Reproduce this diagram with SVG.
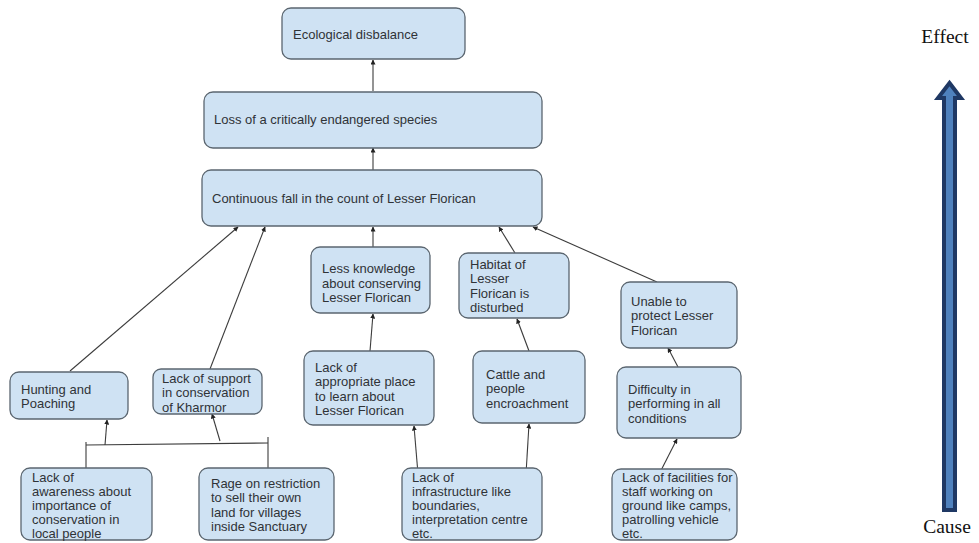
<svg xmlns="http://www.w3.org/2000/svg" width="979" height="543" viewBox="0 0 979 543">
<defs>
<style>
.box{fill:#cfe2f3;stroke:#5b6670;stroke-width:1.3}
.t{font-family:"Liberation Sans",Arial,sans-serif;font-size:13px;fill:#2f3337}
.c{stroke:#3c3c3c;stroke-width:1.1;fill:none}
.a{marker-end:url(#ah)}
.lbl{font-family:"Liberation Serif","Times New Roman",serif;font-size:19.5px;fill:#111}
</style>
<marker id="ah" viewBox="0 0 10 10" refX="9" refY="5" markerWidth="5" markerHeight="5" orient="auto" markerUnits="userSpaceOnUse">
<path d="M0,0 L10,5 L0,10 z" fill="#222"/>
</marker>
</defs>
<rect width="979" height="543" fill="#fff"/>

<g id="connectors">
<line class="c a" x1="373" y1="91" x2="373" y2="60"/>
<line class="c a" x1="373" y1="170" x2="373" y2="148"/>
<line class="c a" x1="70" y1="371" x2="238" y2="227"/>
<line class="c a" x1="210" y1="369" x2="265" y2="227"/>
<line class="c a" x1="373" y1="247" x2="373" y2="227"/>
<line class="c a" x1="515" y1="253" x2="499" y2="227"/>
<line class="c a" x1="657" y1="282" x2="533" y2="227"/>
<line class="c a" x1="370" y1="351" x2="373" y2="314"/>
<line class="c a" x1="529" y1="351" x2="517" y2="319"/>
<line class="c a" x1="678" y1="367" x2="668" y2="348"/>
<line class="c a" x1="526" y1="474" x2="529" y2="424"/>
<line class="c a" x1="418" y1="474" x2="414" y2="426"/>
<line class="c a" x1="650" y1="492" x2="677" y2="439"/>
<polyline class="c" points="86,475 86,442"/>
<line class="c" x1="86" y1="445" x2="268" y2="443"/>
<polyline class="c" points="268,437 268,468"/>
<line class="c a" x1="105" y1="445" x2="107" y2="420"/>
<line class="c a" x1="220" y1="441" x2="212" y2="414"/>
</g>

<g id="n-eco"><rect class="box" x="282" y="8" width="183" height="51" rx="9"/><text class="t" x="293" y="39">Ecological disbalance</text></g>
<g id="n-loss"><rect class="box" x="204" y="92" width="338" height="56" rx="9"/><text class="t" x="214" y="124">Loss of a critically endangered species</text></g>
<g id="n-fall"><rect class="box" x="202" y="170" width="340" height="56" rx="9"/><text class="t" x="212" y="203">Continuous fall in the count of Lesser Florican</text></g>

<g id="n-knowledge"><rect class="box" x="311" y="247" width="119" height="66" rx="9"/><text class="t" x="322" y="273"><tspan x="322">Less knowledge</tspan><tspan x="322" dy="14.5">about conserving</tspan><tspan x="322" dy="14.5">Lesser Florican</tspan></text></g>
<g id="n-habitat"><rect class="box" x="459" y="253" width="110" height="65" rx="9"/><text class="t" x="470" y="268.5"><tspan x="470">Habitat of</tspan><tspan x="470" dy="14.5">Lesser</tspan><tspan x="470" dy="14.5">Florican is</tspan><tspan x="470" dy="14.5">disturbed</tspan></text></g>
<g id="n-unable"><rect class="box" x="621" y="282" width="116" height="66" rx="9"/><text class="t" x="631" y="305.5"><tspan x="631">Unable to</tspan><tspan x="631" dy="14.5">protect Lesser</tspan><tspan x="631" dy="14.5">Florican</tspan></text></g>

<g id="n-hunting"><rect class="box" x="10" y="372" width="118" height="47" rx="9"/><text class="t" x="21" y="393.5"><tspan x="21">Hunting and</tspan><tspan x="21" dy="14.5">Poaching</tspan></text></g>
<g id="n-support"><rect class="box" x="153" y="369" width="109" height="45" rx="8"/><text class="t" x="162" y="382.5"><tspan x="162">Lack of support</tspan><tspan x="162" dy="14.5">in conservation</tspan><tspan x="162" dy="14.5">of Kharmor</tspan></text></g>
<g id="n-place"><rect class="box" x="304" y="351" width="130" height="74" rx="9"/><text class="t" x="315" y="371.5"><tspan x="315">Lack of</tspan><tspan x="315" dy="14.5">appropriate place</tspan><tspan x="315" dy="14.5">to learn about</tspan><tspan x="315" dy="14.5">Lesser Florican</tspan></text></g>
<g id="n-cattle"><rect class="box" x="473" y="351" width="112" height="72" rx="9"/><text class="t" x="486" y="378.5"><tspan x="486">Cattle and</tspan><tspan x="486" dy="14.5">people</tspan><tspan x="486" dy="14.5">encroachment</tspan></text></g>
<g id="n-difficulty"><rect class="box" x="617" y="367" width="124" height="71" rx="9"/><text class="t" x="628" y="393.5"><tspan x="628">Difficulty in</tspan><tspan x="628" dy="14.5">performing in all</tspan><tspan x="628" dy="14.5">conditions</tspan></text></g>

<g id="n-awareness"><rect class="box" x="21" y="468" width="131" height="72" rx="9"/><text class="t" x="32" y="481.5"><tspan x="32">Lack of</tspan><tspan x="32" dy="14">awareness about</tspan><tspan x="32" dy="14">importance of</tspan><tspan x="32" dy="14">conservation in</tspan><tspan x="32" dy="14">local people</tspan></text></g>
<g id="n-rage"><rect class="box" x="199" y="468" width="135" height="72" rx="9"/><text class="t" x="211" y="487.5"><tspan x="211">Rage on restriction</tspan><tspan x="211" dy="14.5">to sell their own</tspan><tspan x="211" dy="14.5">land for villages</tspan><tspan x="211" dy="14.5">inside Sanctuary</tspan></text></g>
<g id="n-infra"><rect class="box" x="402" y="468" width="140" height="72" rx="9"/><text class="t" x="412" y="481.5"><tspan x="412">Lack of</tspan><tspan x="412" dy="14">infrastructure like</tspan><tspan x="412" dy="14">boundaries,</tspan><tspan x="412" dy="14">interpretation centre</tspan><tspan x="412" dy="14">etc.</tspan></text></g>
<g id="n-facilities"><rect class="box" x="612" y="469" width="125" height="71" rx="9"/><text class="t" x="622" y="481.5"><tspan x="622">Lack of facilities for</tspan><tspan x="622" dy="14">staff working on</tspan><tspan x="622" dy="14">ground like camps,</tspan><tspan x="622" dy="14">patrolling vehicle</tspan><tspan x="622" dy="14">etc.</tspan></text></g>

<g id="legend">
<text class="lbl" x="945" y="43" text-anchor="middle">Effect</text>
<polygon points="949.5,83 961,98 955,98 955,510 944,510 944,98 938,98" fill="#4f81bd" stroke="#1f3864" stroke-width="4" stroke-linejoin="miter"/>
<text class="lbl" x="947" y="533" text-anchor="middle">Cause</text>
</g>
</svg>
